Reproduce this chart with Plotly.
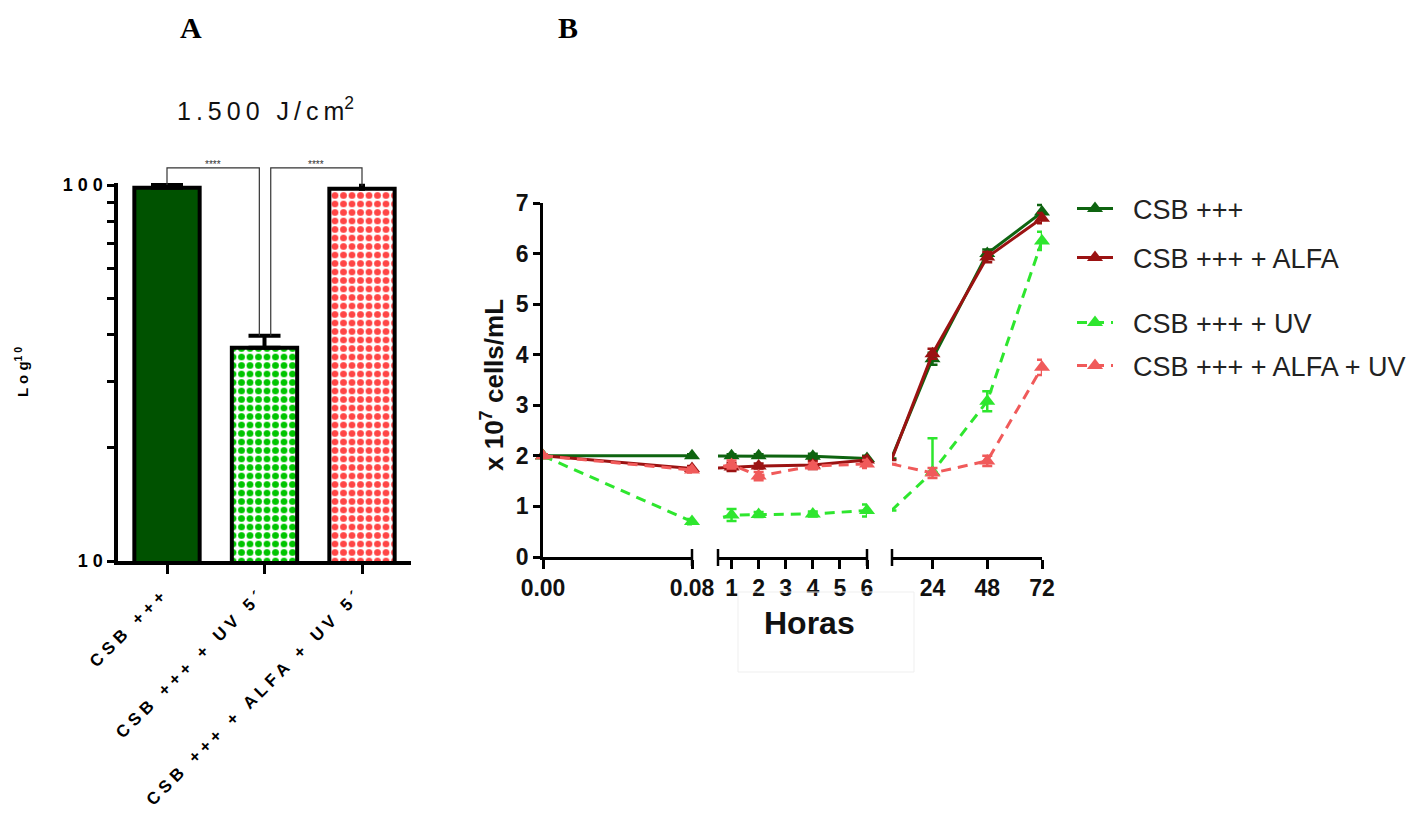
import numpy as np
import plotly.graph_objects as go

W, H = 1425, 821

# ---------------- Panel A data ----------------
bar_labels = ["CSB +++", "CSB +++ + UV 5´", "CSB +++ + ALFA + UV 5´"]
bar_values = [98.4, 36.9, 97.7]
bar_errors = [1.6, 2.8, 1.8]
sig_text = ["****", "****"]
bracket_level = 111
a_major_ticks = [10, 100]
a_minor_ticks = [20, 30, 40, 50, 60, 70, 80, 90]

# ---------------- Panel B data ----------------
hours = [0, 0.08, 1, 2, 4, 6, 24, 48, 72]
series_names = ["CSB +++", "CSB +++ + ALFA", "CSB +++ + UV", "CSB +++ + ALFA + UV"]
csb = [2.0, 2.0, 2.0, 2.0, 1.99, 1.95, 3.92, 6.0, 6.82]
csb_err = [0.03, 0.03, 0.03, 0.03, 0.05, 0.05, 0.12, 0.08, 0.14]
alfa = [2.0, 1.75, 1.78, 1.8, 1.82, 1.92, 4.02, 5.93, 6.7]
alfa_err = [0.03, 0.05, 0.08, 0.05, 0.08, 0.06, 0.1, 0.1, 0.1]
uv = [2.0, 0.7, 0.83, 0.84, 0.85, 0.92, 1.68, 3.08, 6.25]
uv_err_up = [0.03, 0.05, 0.12, 0.05, 0.05, 0.12, 0.67, 0.2, 0.18]
uv_err_dn = [0.03, 0.05, 0.12, 0.05, 0.05, 0.12, 0.0, 0.2, 0.18]
alfa_uv = [2.0, 1.72, 1.83, 1.6, 1.8, 1.84, 1.66, 1.9, 3.75]
alfa_uv_err = [0.03, 0.05, 0.08, 0.08, 0.06, 0.08, 0.1, 0.1, 0.15]
seg1_ticks = [0, 0.08]
seg2_ticks = [1, 2, 3, 4, 5, 6]
seg3_ticks = [24, 48, 72]

NB = "\u00a0"


def px(x):
    return x / W


def py(y):
    return 1 - y / H


def spaced(s, sep=" "):
    return sep.join(s)


fig = go.Figure()

# ---------- Panel A ----------
DEC = 376.0  # px per decade
A_BOTTOM = 561.0
a_top = 2.006
bar_styles = [
    dict(color="#005200", pattern=dict(shape="")),
    dict(color="#00c400", pattern=dict(shape=".", fgcolor="#00c400", bgcolor="white",
                                       size=8.5, solidity=0.5, fillmode="replace")),
    dict(color="#ff4545", pattern=dict(shape=".", fgcolor="#ff4545", bgcolor="white",
                                       size=8.5, solidity=0.5, fillmode="replace")),
]
cap_w = [16, 16, 3]
for i in range(3):
    st = bar_styles[i]
    fig.add_trace(go.Bar(
        x=[i], y=[bar_values[i]], width=0.67, xaxis="x", yaxis="y",
        marker=dict(color=st["color"], pattern=st["pattern"],
                    line=dict(color="black", width=4)),
        error_y=dict(type="data", symmetric=False, array=[bar_errors[i]],
                     arrayminus=[0], color="black", thickness=4, width=cap_w[i]),
        showlegend=False, hoverinfo="skip"))

tops = [v + e for v, e in zip(bar_values, bar_errors)]
brackets = [
    ([0, 0, 1 - 0.053, 1 - 0.053], [tops[0], bracket_level, bracket_level, tops[1]]),
    ([1 + 0.064, 1 + 0.064, 2, 2], [tops[1], bracket_level, bracket_level, tops[2]]),
]
for bx, by in brackets:
    fig.add_trace(go.Scatter(x=bx, y=by, mode="lines", xaxis="x5", yaxis="y5",
                             line=dict(color="#333", width=1.2),
                             showlegend=False, hoverinfo="skip"))

# ---------- Panel B ----------
colors = ["#0e6410", "#9b1212", "#2ee62e", "#f05a5a"]
dashes = ["solid", "solid", "10px,7px", "10px,7px"]
ys = [csb, alfa, uv, alfa_uv]
eup = [csb_err, alfa_err, uv_err_up, alfa_uv_err]
edn = [csb_err, alfa_err, uv_err_dn, alfa_uv_err]
segments = [("x2", 0, 0.08), ("x3", 1, 6), ("x4", 24, 72)]
legend_ids = ["legend", "legend2", "legend3", "legend4"]

for s in range(4):
    for k, (xa, lo, hi) in enumerate(segments):
        inside = [i for i, h in enumerate(hours) if lo <= h <= hi]
        idx = list(inside)
        if inside[0] > 0:
            idx = [inside[0] - 1] + idx
        if inside[-1] < len(hours) - 1:
            idx = idx + [inside[-1] + 1]
        xs = [hours[i] for i in idx]
        yv = [ys[s][i] for i in idx]
        up = [eup[s][i] if i in inside else None for i in idx]
        dn = [edn[s][i] if i in inside else None for i in idx]
        fig.add_trace(go.Scatter(
            x=xs, y=yv, xaxis=xa, yaxis="y2", mode="lines+markers",
            name=NB * 2 + series_names[s], legend=legend_ids[s],
            showlegend=(k == 1),
            line=dict(color=colors[s], width=3, dash=dashes[s]),
            marker=dict(symbol="triangle-up", size=14, color=colors[s]),
            error_y=dict(type="data", symmetric=False, array=up, arrayminus=dn,
                         color=colors[s], thickness=2.5, width=5),
            cliponaxis=False, hoverinfo="skip"))

axis_common = dict(showgrid=False, zeroline=False, showline=True, linecolor="black",
                   ticks="outside", tickcolor="black")
tick_font_b = dict(family="Liberation Sans", size=23, color="#111", weight="bold")

seg_dom = [(543, 692), (718, 867), (892, 1042)]
seg3_start = 72 - 48 * (seg_dom[2][1] - seg_dom[2][0]) / 109.5

layout = dict(
    width=W, height=H, margin=dict(l=0, r=0, t=0, b=0, autoexpand=False),
    paper_bgcolor="white", plot_bgcolor="rgba(0,0,0,0)", barmode="overlay",
    xaxis=dict(**axis_common, domain=[px(118.25), px(410.75)], range=[-0.5, 2.5],
               anchor="y", tickvals=[0, 1, 2],
               ticktext=[spaced(t) + NB * 2 for t in bar_labels],
               tickangle=-45, ticklen=9, tickwidth=3, linewidth=3.5,
               tickfont=dict(family="Liberation Sans", size=17, color="black", weight="bold")),
    yaxis=dict(**axis_common, type="log", anchor="x",
               domain=[py(A_BOTTOM), py(A_BOTTOM - DEC * (a_top - 1))], range=[1, a_top],
               tickvals=a_major_ticks,
               ticktext=[spaced(str(t)) for t in a_major_ticks],
               ticklen=8, tickwidth=3, linewidth=3.5,
               minor=dict(tickvals=a_minor_ticks, ticks="outside", ticklen=8,
                          tickwidth=3, tickcolor="black", showgrid=False),
               tickfont=dict(family="Liberation Sans", size=18, color="black", weight="bold")),
    xaxis5=dict(domain=[px(118.25), px(410.75)], range=[-0.5, 2.5], anchor="y5", visible=False),
    yaxis5=dict(type="log", domain=[py(A_BOTTOM), py(150)],
                range=[1, 1 + (A_BOTTOM - 150) / DEC], anchor="x5", visible=False),
    yaxis2=dict(**axis_common, domain=[py(557), py(203)], range=[0, 7], dtick=1,
                anchor="x2", ticklen=7, tickwidth=2.5, linewidth=2.5, tickfont=tick_font_b),
    xaxis2=dict(**axis_common, domain=[px(seg_dom[0][0]), px(seg_dom[0][1])], range=[0, 0.08],
                anchor="y2", tickvals=seg1_ticks, tickformat=".2f", ticklen=9, tickwidth=2.5,
                linewidth=2.5, tickfont=tick_font_b),
    xaxis3=dict(**axis_common, domain=[px(seg_dom[1][0]), px(seg_dom[1][1])], range=[0.5, 6],
                anchor="y2", tickvals=seg2_ticks, ticklen=9, tickwidth=2.5,
                linewidth=2.5, tickfont=tick_font_b),
    xaxis4=dict(**axis_common, domain=[px(seg_dom[2][0]), px(seg_dom[2][1])],
                range=[seg3_start, 72], anchor="y2", tickvals=seg3_ticks, ticklen=9,
                tickwidth=2.5, linewidth=2.5, tickfont=tick_font_b),
)

leg_rows = [209, 258, 323, 366]
leg_font = dict(family="Liberation Sans", size=27, color="#222")
for lid, yrow in zip(legend_ids, leg_rows):
    layout[lid] = dict(x=px(1072), y=py(yrow), xanchor="left", yanchor="middle",
                       font=leg_font, bgcolor="rgba(0,0,0,0)", itemwidth=36,
                       borderwidth=0, tracegroupgap=0)

fig.update_layout(**layout)

# Break caps on the segmented x axis
caps = [("x2 domain", 1), ("x3 domain", 0), ("x3 domain", 1), ("x4 domain", 0)]
for xr, xv in caps:
    fig.add_shape(type="line", xref=xr, yref="paper", x0=xv, x1=xv,
                  y0=py(549), y1=py(566), line=dict(color="black", width=2.5))

# faint box artefact around "Horas"
fig.add_shape(type="rect", xref="paper", yref="paper", x0=px(738), x1=px(914),
              y0=py(672), y1=py(592), line=dict(color="#efefef", width=1))

TS = "\u2009"
title_txt = spaced("1.500 J/cm", TS) + "<sup>2</sup>"
ann = [
    dict(text="<b>A</b>", x=px(191), y=py(27),
         font=dict(family="Liberation Serif", size=30, color="black")),
    dict(text="<b>B</b>", x=px(568), y=py(27),
         font=dict(family="Liberation Serif", size=30, color="black")),
    dict(text=title_txt, x=px(265), y=py(109),
         font=dict(family="Liberation Sans", size=25, color="#111")),
    dict(text="<b>L o g<sup>1 0</sup></b>", x=px(22), y=py(372), textangle=-90,
         font=dict(family="Liberation Sans", size=15, color="black")),
    dict(text="<b>x 10<sup>7</sup> cells/mL</b>", x=px(492), y=py(385), textangle=-90,
         font=dict(family="Liberation Sans", size=26, color="#111")),
    dict(text="<b>Horas</b>", x=px(809), y=py(623),
         font=dict(family="Liberation Sans", size=32, color="#111")),
]
for a in ann:
    fig.add_annotation(xref="paper", yref="paper", showarrow=False,
                       xanchor="center", yanchor="middle", **a)

mids = [(brackets[0][0][0] + brackets[0][0][2]) / 2, (brackets[1][0][0] + brackets[1][0][2]) / 2]
for m, t in zip(mids, sig_text):
    fig.add_annotation(xref="x5", yref="y5", x=m, y=np.log10(bracket_level), text=t,
                       showarrow=False, yanchor="bottom", yshift=-4,
                       font=dict(family="Liberation Sans", size=10, color="#333"))

fig.write_html("out.html")
